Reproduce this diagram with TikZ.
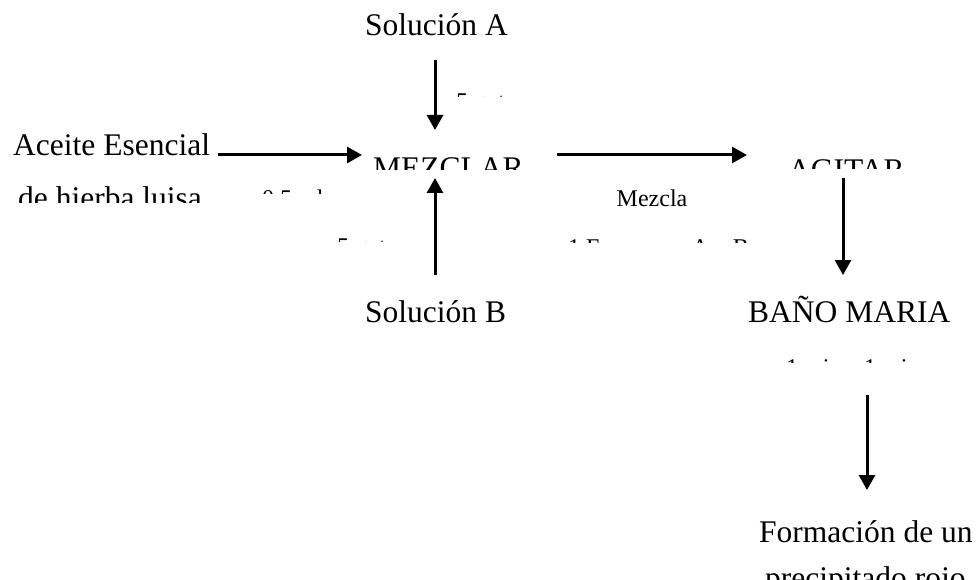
\documentclass[tikz,border=0pt]{standalone}
\usepackage{fontspec}
\setmainfont{Liberation Serif}
\usetikzlibrary{arrows.meta}
\begin{document}
\begin{tikzpicture}[x=1pt,y=-1pt,
  big/.style={inner sep=0pt, anchor=base west, font=\fontsize{31.5}{38}\selectfont},
  small/.style={inner sep=0pt, anchor=base west, font=\fontsize{24}{29}\selectfont},
  flow/.style={line width=3pt, -{Triangle[length=15pt,width=16pt]}}]
\useasboundingbox (0,0) rectangle (977,580);

% main labels
\node[big] (solA) at (365,36) {Solución A};
\node[big] (aceite) at (13,156) {Aceite Esencial};
\node[big] (solB) at (365,322) {Solución B};
\node[big] (bano) at (748,322) {BAÑO MARIA};
\node[big] (formacion) at (759,542) {Formación de un};
\node[small, anchor=base] (mezcla) at (652,207) {Mezcla};

% text boxes whose lower part is cut off
\begin{scope}
  \clip (0,150) rectangle (977,203);
  \node[big] (hierba) at (18,208.5) {de hierba luisa};
\end{scope}
\begin{scope}
  \clip (0,140) rectangle (977,170);
  \node[big] (mezclar) at (373,179) {MEZCLAR};
\end{scope}
\begin{scope}
  \clip (0,140) rectangle (977,169);
  \node[big] (agitar) at (788,181) {AGITAR};
\end{scope}
\begin{scope}
  \clip (0,550) rectangle (977,580);
  \node[big] (precipitado) at (765,588) {precipitado rojo};
\end{scope}
\begin{scope}
  \clip (0,180) rectangle (977,194);
  \node[small] (aceiteml) at (262,206.5) {0.5 ml};
\end{scope}
\begin{scope}
  \clip (0,85) rectangle (977,97);
  \node[small] (gotasA) at (456,110) {5 gotas};
\end{scope}
\begin{scope}
  \clip (0,230) rectangle (977,241.5);
  \node[small] (gotasB) at (337,254.5) {5 gotas};
\end{scope}
\begin{scope}
  \clip (0,230) rectangle (977,242);
  \node[small] (ensayo) at (568,255) {1 Ensayo en A y B};
\end{scope}
\begin{scope}
  \clip (0,350) rectangle (977,362);
  \node[small] (tiempo) at (786,375) {1 min a 1 min};
\end{scope}

% arrow end points
\coordinate (aTop) at (435,60);
\coordinate (aEnd) at (435,130);
\coordinate (oilStart) at (218,155);
\coordinate (oilEnd) at (362,155);
\coordinate (bStart) at (435,275);
\coordinate (bEnd) at (435,178);
\coordinate (mixStart) at (557,155);
\coordinate (mixEnd) at (747,155);
\coordinate (agStart) at (843,178);
\coordinate (agEnd) at (843,275);
\coordinate (baStart) at (867,395);
\coordinate (baEnd) at (867,490);

\draw[flow] (aTop) -- (aEnd);
\draw[flow] (oilStart) -- (oilEnd);
\draw[flow] (bStart) -- (bEnd);
\draw[flow] (mixStart) -- (mixEnd);
\draw[flow] (agStart) -- (agEnd);
\draw[flow] (baStart) -- (baEnd);
\end{tikzpicture}
\end{document}
